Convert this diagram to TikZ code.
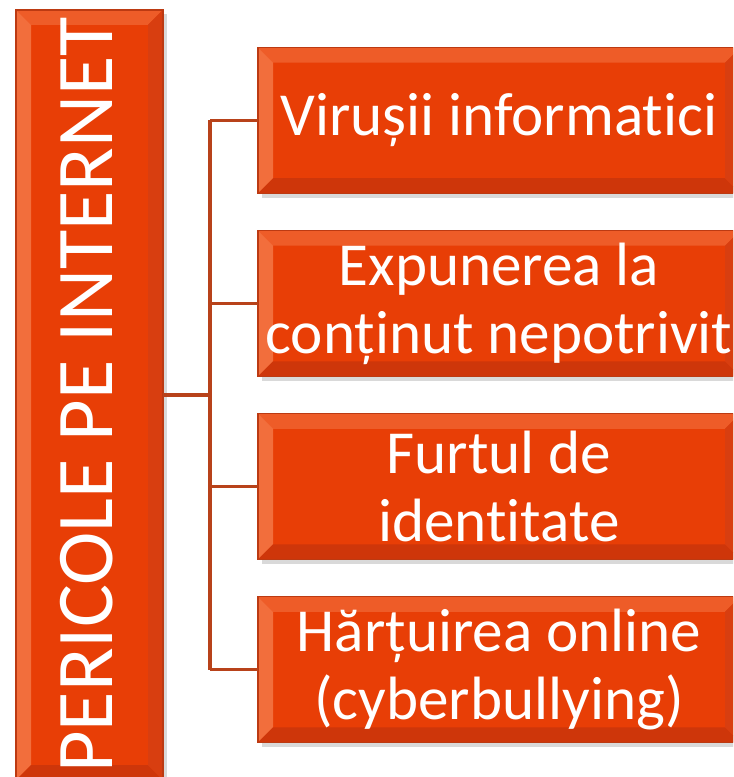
\documentclass[tikz,border=0pt]{standalone}
\usepackage{fontspec}
\setmainfont{Carlito}[Ligatures={NoCommon}]
\usepackage{tikz}
\usetikzlibrary{calc}
\usetikzlibrary{positioning}
\usetikzlibrary{shadows}
\definecolor{boxred}{RGB}{232,62,6}
\definecolor{bevtop}{RGB}{238,92,40}
\definecolor{bevleft}{RGB}{242,110,60}
\definecolor{bevbottom}{RGB}{206,54,10}
\definecolor{bevright}{RGB}{216,62,16}
\definecolor{edgered}{RGB}{188,58,18}
\definecolor{linkred}{RGB}{184,66,26}
\newcommand{\bw}{0.15}
\newcommand{\bevel}[1]{
\fill[bevtop] (#1.north west) -- (#1.north east) -- ($(#1.north east)+(-\bw,-\bw)$) -- ($(#1.north west)+(\bw,-\bw)$) -- cycle;
\fill[bevleft] (#1.north west) -- ($(#1.north west)+(\bw,-\bw)$) -- ($(#1.south west)+(\bw,\bw)$) -- (#1.south west) -- cycle;
\fill[bevbottom] (#1.south west) -- ($(#1.south west)+(\bw,\bw)$) -- ($(#1.south east)+(-\bw,\bw)$) -- (#1.south east) -- cycle;
\fill[bevright] (#1.north east) -- ($(#1.north east)+(-\bw,-\bw)$) -- ($(#1.south east)+(-\bw,\bw)$) -- (#1.south east) -- cycle;}
\tikzset{
  bevbox/.style={shape=rectangle, fill=boxred, draw=edgered, line width=0.4pt, inner sep=0pt, outer sep=0pt,
    drop shadow={shadow xshift=0.035cm, shadow yshift=-0.045cm, opacity=0.3},
    path picture={\bevel{path picture bounding box}}},
  itembox/.style={bevbox, minimum width=4.82cm, minimum height=1.455cm, text=white, align=center,
    font=\fontsize{17.4}{19.4}\selectfont},
  link/.style={draw=linkred, line width=1pt}
}

\begin{document}
\begin{tikzpicture}
\useasboundingbox (0,0) rectangle (7.33,-7.77);
\clip (0,0) rectangle (7.33,-7.77);
% title box
\node[bevbox, minimum width=1.47cm, minimum height=7.70cm] (pericole) at (0.895,-3.95) {};
\node[text=white, rotate=90, font=\fontsize{22.9}{26}\selectfont] (titlu) at (0.87,-3.95) {PERICOLE PE INTERNET};
% item boxes
\node[itembox] (virusi) at (4.99,-1.205) {Virușii informatici};
\node[itembox, below=0.375 of virusi] (expunere) {Expunerea la\\conținut nepotrivit};
\node[itembox, below=0.375 of expunere] (furt) {Furtul de\\identitate};
\node[itembox, below=0.375 of furt] (hartuire) {Hărțuirea online\\(cyberbullying)};
% connectors
\coordinate (fork) at (2.10,-3.95);
\draw[link] (pericole.east) -- (fork);
\draw[link] (fork |- virusi.west) -- (fork |- hartuire.west);
\foreach \n in {virusi,expunere,furt,hartuire} {\draw[link] (fork |- \n.west) -- (\n.west);}
\end{tikzpicture}
\end{document}
